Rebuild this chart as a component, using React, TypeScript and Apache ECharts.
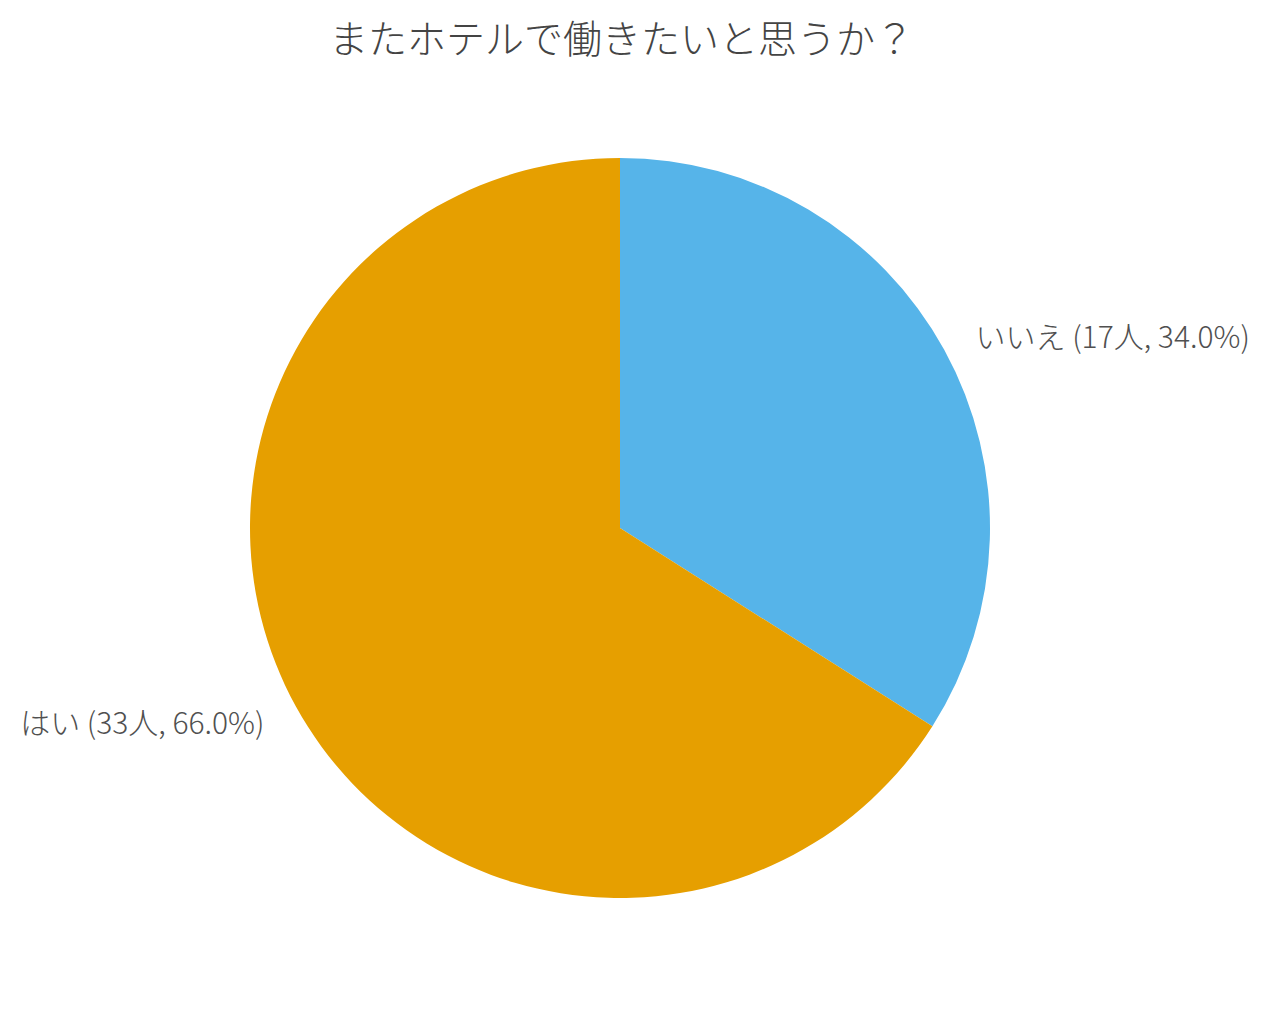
import React, { useEffect, useRef } from 'react';
import * as echarts from 'echarts';

const titleText = 'またホテルで働きたいと思うか？';
const categories = ['いいえ', 'はい'];
const counts = [17, 33];
const colors = ['#56B4E9', '#E69F00'];

const FONT = '"Noto Sans CJK JP Light", "Noto Sans CJK JP", "Noto Sans", sans-serif';

const App: React.FC = () => {
  const chartRef = useRef<HTMLDivElement>(null);

  useEffect(() => {
    document.body.style.margin = '0';
    if (!chartRef.current) return;
    const chart = echarts.init(chartRef.current, undefined, { renderer: 'svg' });

    const total = counts.reduce((a, b) => a + b, 0);
    const data = categories.map((name, i) => ({
      name,
      value: counts[i],
      itemStyle: { color: colors[i] }
    }));

    const option: echarts.EChartsOption = {
      backgroundColor: '#ffffff',
      animation: false,
      title: {
        text: titleText,
        left: 324,
        top: 11,
        textStyle: {
          fontFamily: FONT,
          fontWeight: 300,
          fontSize: 39,
          color: '#444444'
        }
      },
      series: [
        {
          type: 'pie',
          center: [620, 528],
          radius: 370,
          startAngle: 90,
          clockwise: true,
          avoidLabelOverlap: false,
          itemStyle: { borderWidth: 0 },
          emphasis: { disabled: true },
          label: {
            show: true,
            position: 'outside',
            fontFamily: FONT,
            fontWeight: 300,
            fontSize: 30,
            color: '#505050',
            formatter: (p: any) =>
              `${p.name} (${p.value}人, ${((p.value / total) * 100).toFixed(1)}%)`
          },
          labelLine: { show: false, length: 30, length2: 0 },
          data
        }
      ]
    };

    chart.setOption(option);
    return () => {
      chart.dispose();
    };
  }, []);

  return <div ref={chartRef} style={{ width: 1270, height: 1011 }} />;
};

export default App;
